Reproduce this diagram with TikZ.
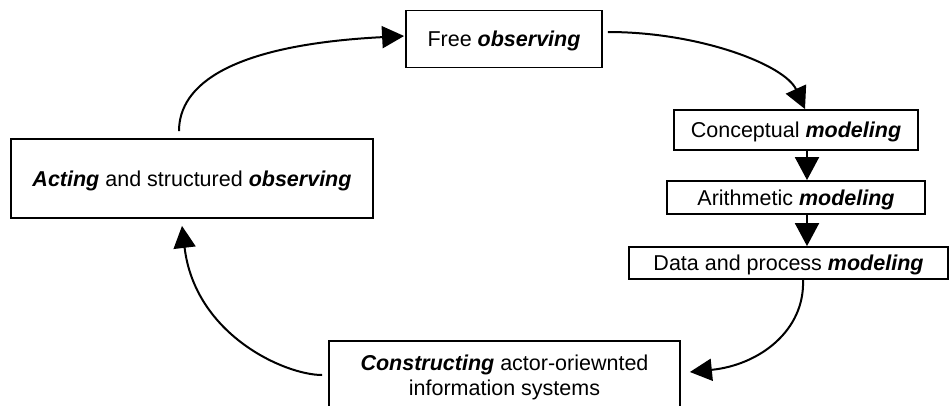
\documentclass[tikz,border=0pt]{standalone}
\usepackage{fontspec}
\setmainfont{Liberation Sans}
\usetikzlibrary{arrows.meta,calc}
\newcommand{\kw}[1]{\textbf{\textit{#1}}}
\begin{document}
\begin{tikzpicture}[x=1pt,y=-1pt,
  stage/.style={draw=black,line width=1.8pt,fill=white,inner sep=0pt,
    font=\fontsize{21.5}{25}\selectfont,text height=15.5pt,text depth=0pt},
  flow/.style={line width=2pt,-{Triangle[length=22pt,width=22pt]}},
  drop/.style={line width=2pt,-{Triangle[length=23pt,width=24pt]}}]
\useasboundingbox (0,0) rectangle (950,405);
\clip (0,0) rectangle (950,405);

% stages of the cycle
\node[stage,minimum width=196pt,minimum height=57pt] (free) at (504,39) {Free \kw{observing}};
\node[stage,minimum width=244pt,minimum height=40pt] (conc) at (796,130) {Conceptual \kw{modeling}};
\node[stage,minimum width=258pt,minimum height=33pt] (arith) at (796,197.5) {Arithmetic \kw{modeling}};
\node[stage,minimum width=319pt,minimum height=32pt] (data) at (788.5,263) {Data and process \kw{modeling}};
\node[stage,minimum width=362pt,minimum height=79pt] (act) at (192,178.5) {\kw{Acting} and structured \kw{observing}};
\node[stage,minimum width=351pt,minimum height=72pt,align=center,text height=,text depth=] (cons) at (504.5,377)
  {\kw{Constructing} actor-oriewnted\\information systems};

% shaft of the short vertical arrows
\coordinate (shaft) at (807,0);

% connectors
\draw[flow] ([xshift=-13pt,yshift=7pt]act.north)
  .. controls (179,85) and (230,45) .. ([xshift=-1pt,yshift=3pt]free.west);
\draw[flow] ([xshift=5pt,yshift=7pt]free.east)
  .. controls (700,32) and (785,65) .. ([xshift=9pt]conc.north);
\draw[drop] (conc.south -| shaft) -- (arith.north -| shaft);
\draw[drop] (arith.south -| shaft) -- (data.north -| shaft);
\draw[flow] ([xshift=14.5pt]data.south)
  .. controls (805,330) and (760,365) .. ([xshift=9pt,yshift=5pt]cons.east);
\draw[flow] ([xshift=-6pt,yshift=2pt]cons.west)
  .. controls (285,375) and (195,335) .. ([xshift=-10pt,yshift=-7pt]act.south);
\end{tikzpicture}
\end{document}
